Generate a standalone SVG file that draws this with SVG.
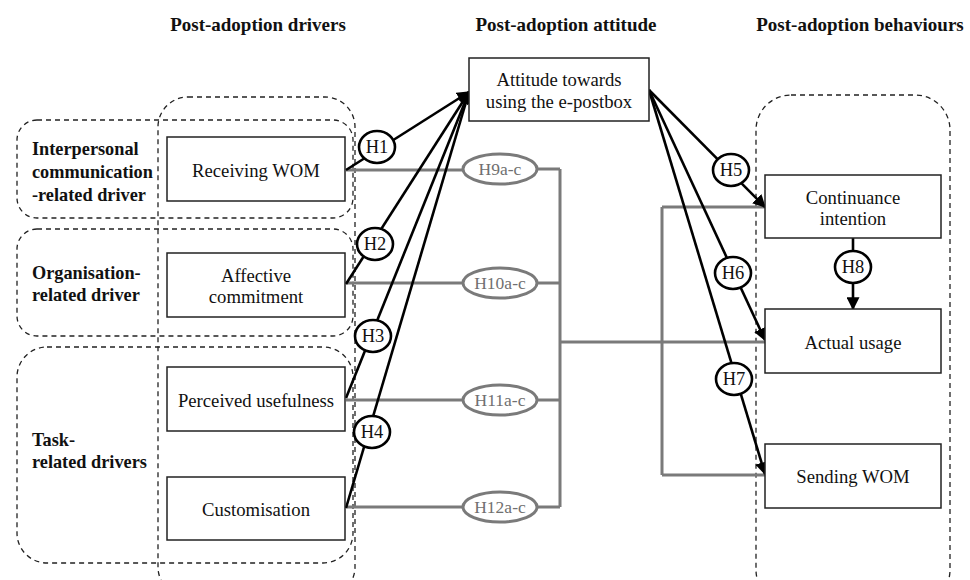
<svg xmlns="http://www.w3.org/2000/svg" width="970" height="580" viewBox="0 0 970 580">
<defs>
<marker id="arr" viewBox="0 0 10 10" refX="9" refY="5" markerWidth="5" markerHeight="5" orient="auto" markerUnits="strokeWidth"><path d="M0,0 L10,5 L0,10 z" fill="#000"/></marker>
<style>
text{font-family:'Liberation Serif','Tinos','Times New Roman','DejaVu Serif',serif}
.t{font-size:18.7px;fill:#111;text-anchor:middle}
.b{font-size:18.3px;font-weight:bold;fill:#111}
.h{font-size:19px;font-weight:bold;fill:#111;text-anchor:middle}
.g{font-size:17.5px;fill:#707070;text-anchor:middle}
.k{font-size:18.5px;fill:#111;text-anchor:middle}
.box{fill:#fff;stroke:#222;stroke-width:1.5}
.dash{fill:none;stroke:#222;stroke-width:1.3;stroke-dasharray:5,4}
.bl{stroke:#000;stroke-width:2.6;fill:none}
.gl{stroke:#7a7a7a;stroke-width:3;fill:none}
.ce{fill:#fff;stroke:#000;stroke-width:2.6}
.ge{fill:#fff;stroke:#7a7a7a;stroke-width:3}
</style>
</defs>
<rect width="970" height="580" fill="#fff"/>
<g id="titles">
<text class="h" x="258" y="31">Post-adoption drivers</text>
<text class="h" x="566" y="31">Post-adoption attitude</text>
<text class="h" x="860" y="31">Post-adoption behaviours</text>
</g>
<g id="groups">
<rect class="dash" x="158" y="97" width="197" height="500" rx="30"/>
<rect class="dash" x="17" y="120" width="336" height="98" rx="20"/>
<rect class="dash" x="17" y="229" width="336" height="107" rx="20"/>
<rect class="dash" x="17" y="347" width="336" height="216" rx="30"/>
<rect class="dash" x="756" y="95" width="194" height="510" rx="35"/>
<text class="b" x="32" y="155">Interpersonal</text>
<text class="b" x="32" y="178">communication</text>
<text class="b" x="32" y="201">-related driver</text>
<text class="b" x="32" y="279">Organisation-</text>
<text class="b" x="32" y="301">related driver</text>
<text class="b" x="32" y="446">Task-</text>
<text class="b" x="32" y="468">related drivers</text>
</g>
<g id="connectors">
<path class="gl" d="M346,170 H463 M537,169 H560 M346,283 H463 M537,283 H560 M346,400 H463 M537,400 H560 M346,507 H463 M537,507 H560 M560,169 V507 M560,342 H765 M662,207 V475 M662,207 H765 M662,475 H765"/>
<path class="bl" d="M346,170 L469,92" marker-end="url(#arr)"/>
<path class="bl" d="M346,284 L469,92" marker-end="url(#arr)"/>
<path class="bl" d="M346,398 L469,92" marker-end="url(#arr)"/>
<path class="bl" d="M346,508 L469,92" marker-end="url(#arr)"/>
<path class="bl" d="M649,90 L765,207" marker-end="url(#arr)"/>
<path class="bl" d="M649,90 L765,340" marker-end="url(#arr)"/>
<path class="bl" d="M649,90 L765,474" marker-end="url(#arr)"/>
<path class="bl" d="M853,238 V309" marker-end="url(#arr)"/>
</g>
<g id="labels">
<g id="H1"><ellipse class="ce" cx="377" cy="147" rx="18" ry="16"/><text class="k" x="377" y="153">H1</text></g>
<g id="H2"><ellipse class="ce" cx="375" cy="244" rx="18" ry="16"/><text class="k" x="375" y="250">H2</text></g>
<g id="H3"><ellipse class="ce" cx="373" cy="336" rx="18" ry="16"/><text class="k" x="373" y="342">H3</text></g>
<g id="H4"><ellipse class="ce" cx="372" cy="432" rx="18" ry="16"/><text class="k" x="372" y="438">H4</text></g>
<g id="H5"><ellipse class="ce" cx="731" cy="170" rx="18" ry="16"/><text class="k" x="731" y="176">H5</text></g>
<g id="H6"><ellipse class="ce" cx="733" cy="273" rx="18" ry="16"/><text class="k" x="733" y="279">H6</text></g>
<g id="H7"><ellipse class="ce" cx="734" cy="379" rx="18" ry="16"/><text class="k" x="734" y="385">H7</text></g>
<g id="H8"><ellipse class="ce" cx="853" cy="267" rx="18" ry="16"/><text class="k" x="853" y="273">H8</text></g>
<g id="H9"><ellipse class="ge" cx="500" cy="169" rx="37" ry="15"/><text class="g" x="500" y="175">H9a-c</text></g>
<g id="H10"><ellipse class="ge" cx="500" cy="283" rx="37" ry="15"/><text class="g" x="500" y="289">H10a-c</text></g>
<g id="H11"><ellipse class="ge" cx="500" cy="400" rx="37" ry="15"/><text class="g" x="500" y="406">H11a-c</text></g>
<g id="H12"><ellipse class="ge" cx="500" cy="507" rx="37" ry="15"/><text class="g" x="500" y="513">H12a-c</text></g>
</g>
<g id="receiving-wom"><rect class="box" x="167" y="137" width="178" height="64"/><text class="t" x="256" y="177">Receiving WOM</text></g>
<g id="affective-commitment"><rect class="box" x="167" y="253" width="178" height="64"/><text class="t" x="256" y="282">Affective</text><text class="t" x="256" y="303">commitment</text></g>
<g id="perceived-usefulness"><rect class="box" x="167" y="367" width="178" height="64"/><text class="t" x="256" y="407">Perceived usefulness</text></g>
<g id="customisation"><rect class="box" x="167" y="477" width="178" height="63"/><text class="t" x="256" y="516">Customisation</text></g>
<g id="attitude"><rect class="box" x="469" y="58" width="180" height="63"/><text class="t" x="559" y="86">Attitude towards</text><text class="t" x="559" y="108">using the e-postbox</text></g>
<g id="continuance-intention"><rect class="box" x="765" y="175" width="176" height="63"/><text class="t" x="853" y="204">Continuance</text><text class="t" x="853" y="225">intention</text></g>
<g id="actual-usage"><rect class="box" x="765" y="309" width="176" height="64"/><text class="t" x="853" y="349">Actual usage</text></g>
<g id="sending-wom"><rect class="box" x="765" y="444" width="176" height="64"/><text class="t" x="853" y="483">Sending WOM</text></g>
</svg>
